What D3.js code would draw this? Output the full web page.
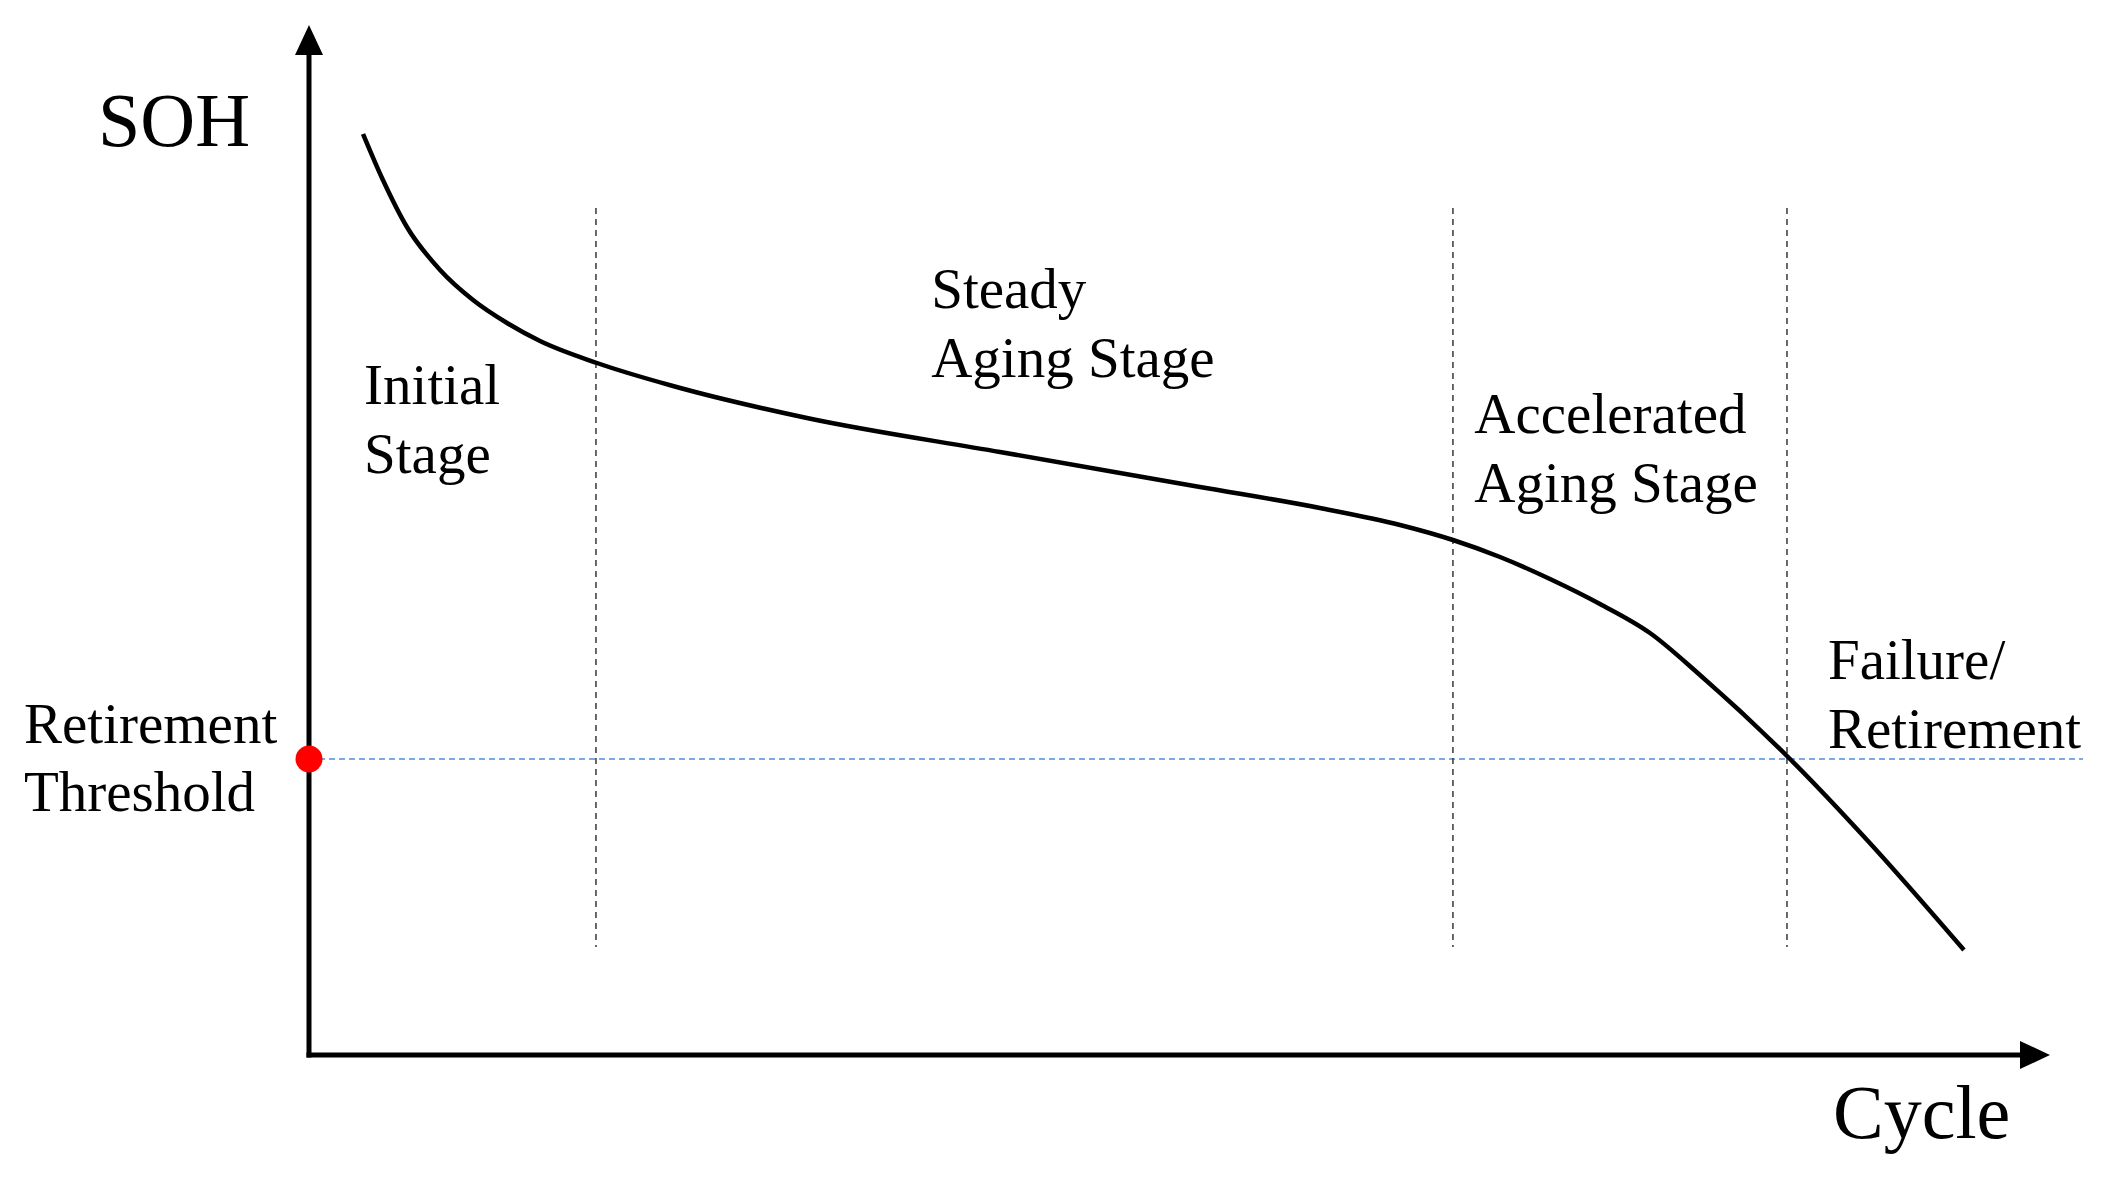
<!DOCTYPE html>
<html>
<head>
<meta charset="utf-8">
<script src="https://cdn.jsdelivr.net/npm/d3@7"></script>
<style>
html,body{margin:0;padding:0;background:#fff;}
svg{display:block;}
text{font-family:"Liberation Serif","Times New Roman",serif;fill:#000;}
</style>
</head>
<body>
<svg id="chart" width="2104" height="1177"></svg>
<script>
// ---- data (abstract units: cycle 0..100, SOH 0..100) ----
const cycle = [3.18, 4.35, 5.76, 7.71, 9.65, 11.65, 13.59, 16.94, 21.41, 29.29, 40.65, 52.41, 59.47, 64.18, 67.29, 70.06, 73.0, 75.94, 78.88, 81.82, 87.0, 91.65, 97.35];
const soh   = [92.1, 87.5, 82.8, 78.5, 75.5, 73.2, 71.4, 69.2, 66.9, 63.7, 60.3, 56.8, 54.7, 53.0, 51.5, 49.8, 47.6, 45.1, 42.2, 38.0, 29.8, 21.5, 10.5];
const stageBounds = [16.88, 67.29, 86.94];
const boundTop = 84.7, boundBottom = 10.8;
const threshold = 29.6;
const stageLabels = [
  {lines: ["Initial", "Stage"], x: 3.24, y: 65.1},
  {lines: ["Steady", "Aging Stage"], x: 36.6, y: 74.7},
  {lines: ["Accelerated", "Aging Stage"], x: 68.55, y: 62.2},
  {lines: ["Failure/", "Retirement"], x: 89.35, y: 37.6}
];

// ---- scales ----
const svg = d3.select("#chart");
const x = d3.scaleLinear().domain([0, 100]).range([309, 2009]);
const y = d3.scaleLinear().domain([0, 100]).range([1055, 55]);
const x0 = x(0), y0 = y(0);

// threshold (blue dashed)
svg.append("line")
  .attr("x1", x0).attr("x2", 2083)
  .attr("y1", y(threshold)).attr("y2", y(threshold))
  .attr("stroke", "#7ea8e4").attr("stroke-width", 2.2)
  .attr("stroke-dasharray", "6,4");

// stage boundaries
svg.selectAll("line.bound").data(stageBounds).enter().append("line")
  .attr("class", "bound")
  .attr("x1", d => x(d)).attr("x2", d => x(d))
  .attr("y1", y(boundTop)).attr("y2", y(boundBottom))
  .attr("stroke", "#444").attr("stroke-width", 1.6)
  .attr("stroke-dasharray", "6,5");

// SOH curve
const pts = cycle.map((c, i) => [c, soh[i]]);
svg.append("path")
  .datum(pts)
  .attr("fill", "none").attr("stroke", "#000").attr("stroke-width", 4.5)
  .attr("stroke-linecap", "butt").attr("stroke-linejoin", "round")
  .attr("d", d3.line().x(d => x(d[0])).y(d => y(d[1])).curve(d3.curveMonotoneX));

// axes with arrows
svg.append("line").attr("x1", x0).attr("x2", x0).attr("y1", y0 + 2.5).attr("y2", 50)
  .attr("stroke", "#000").attr("stroke-width", 5);
svg.append("line").attr("x1", x0 - 2.5).attr("x2", 2025).attr("y1", y0).attr("y2", y0)
  .attr("stroke", "#000").attr("stroke-width", 5);
svg.append("path").attr("d", `M${x0},25 L${x0 - 14},55 L${x0 + 14},55 Z`).attr("fill", "#000");
svg.append("path").attr("d", `M2050,${y0} L2020,${y0 - 14} L2020,${y0 + 14} Z`).attr("fill", "#000");

// red threshold point
svg.append("circle").attr("cx", x0).attr("cy", y(threshold)).attr("r", 13.5).attr("fill", "#ff0000");

// axis titles
svg.append("text").attr("x", 98).attr("y", 146).attr("font-size", 76).text("SOH");
svg.append("text").attr("x", 1833).attr("y", 1138).attr("font-size", 76).text("Cycle");

// threshold label
const thr = svg.append("text").attr("font-size", 57);
thr.append("tspan").attr("x", 24).attr("y", y(threshold) - 16).text("Retirement");
thr.append("tspan").attr("x", 24).attr("y", y(threshold) + 52).text("Threshold");

// stage labels
stageLabels.forEach(s => {
  const t = svg.append("text").attr("font-size", 57);
  s.lines.forEach((ln, i) => {
    t.append("tspan").attr("x", x(s.x)).attr("y", y(s.y) + i * 69).text(ln);
  });
});
</script>
</body>
</html>
